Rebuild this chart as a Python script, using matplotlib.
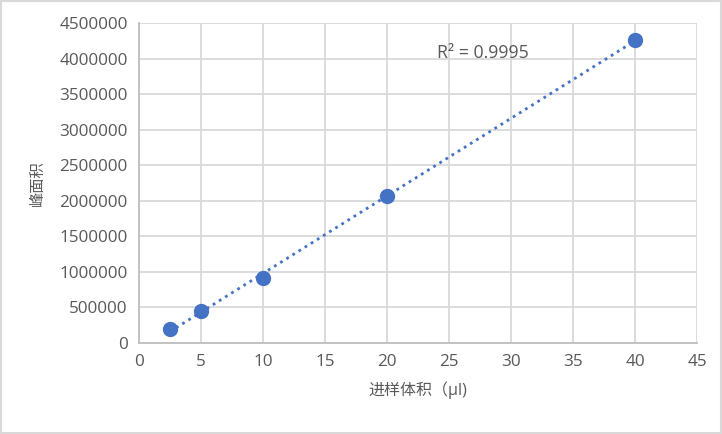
import numpy as np
import matplotlib.pyplot as plt

# datos
volumen = [2.5, 5, 10, 20, 40]
area = [190000, 455000, 915000, 2070000, 4260000]
r2_texto = "R² = 0.9995"
xticks = [0, 5, 10, 15, 20, 25, 30, 35, 40, 45]
yticks = [0, 500000, 1000000, 1500000, 2000000, 2500000, 3000000, 3500000, 4000000, 4500000]

plt.rcParams['font.family'] = ['Open Sans', 'Noto Sans CJK SC', 'DejaVu Sans']
gris_txt = '#595959'
azul = '#4472C4'

fig = plt.figure(figsize=(7.22, 4.34), dpi=100)
ax = fig.add_axes([0.1925, 0.2097, 0.7729, 0.7373])

# recta de tendencia (ajuste lineal)
m, b = np.polyfit(volumen, area, 1)
xs = np.array([min(volumen), max(volumen)])
ax.plot(xs, m * xs + b, color=azul, lw=2, linestyle=(0, (1, 1.6)), zorder=2)
ax.plot(volumen, area, 'o', color=azul, markersize=10, zorder=3)

ax.set_xlim(0, 45)
ax.set_ylim(0, 4500000)
ax.set_xticks(xticks)
ax.set_yticks(yticks)
ax.set_yticklabels([str(v) for v in yticks])
ax.grid(True, color='#D9D9D9', lw=1.3)
ax.set_axisbelow(True)
for s in ['top', 'right']:
    ax.spines[s].set_visible(False)
for s in ['left', 'bottom']:
    ax.spines[s].set_color('#BFBFBF')
    ax.spines[s].set_linewidth(1.3)
ax.tick_params(length=0, labelsize=12.3, colors=gris_txt, pad=8)

ax.set_xlabel('进样体积（μl)', fontsize=11.5, color=gris_txt, labelpad=8)
ax.set_ylabel('峰面积', fontsize=11, color=gris_txt, labelpad=10)
ax.text(24.0, 4080000, r2_texto, fontsize=12.8, color=gris_txt, va='center')

# marco exterior
fig.patches.append(plt.Rectangle((0.002, 0.003), 0.996, 0.994, transform=fig.transFigure,
                                 fill=False, edgecolor='#D9D9D9', lw=1.5))

fig.savefig('out.png', dpi=100)
